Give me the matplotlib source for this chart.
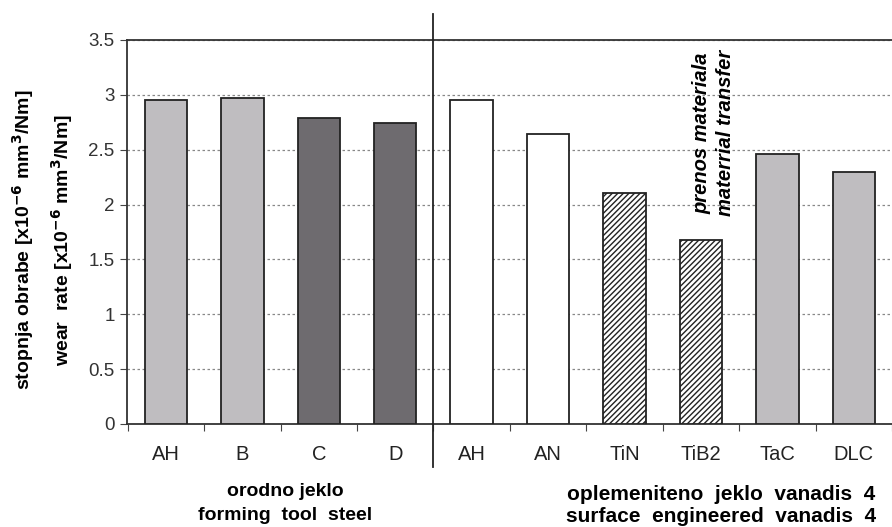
import matplotlib
matplotlib.use("Agg")
import matplotlib.pyplot as plt

plt.rcParams['font.family'] = ['Liberation Sans', 'DejaVu Sans']
plt.rcParams['hatch.linewidth'] = 1.0

categories = ["AH", "B", "C", "D", "AH", "AN", "TiN", "TiB2", "TaC", "DLC"]
values = [2.95, 2.97, 2.79, 2.74, 2.95, 2.64, 2.11, 1.68, 2.46, 2.30]
colors = ["#bfbdc0", "#bfbdc0", "#6e6b6f", "#6e6b6f", "#ffffff", "#ffffff",
          "#ffffff", "#ffffff", "#bfbdc0", "#bfbdc0"]
hatches = ["", "", "", "", "", "", "//////", "//////", "", ""]
yticks = [0, 0.5, 1, 1.5, 2, 2.5, 3, 3.5]
ytick_labels = ["0", "0.5", "1", "1.5", "2", "2.5", "3", "3.5"]

W, H = 892, 527
fig = plt.figure(figsize=(W / 100, H / 100), dpi=100)
ax = fig.add_axes([127 / W, 1 - 424 / H, (892 - 127) / W, (424 - 40) / H])

x = list(range(len(categories)))
ax.bar(x, values, width=0.555, color=colors, edgecolor="#222222", linewidth=1.3,
       hatch=hatches, zorder=3)

ax.set_xlim(-0.51, 9.34)
ax.set_ylim(0, 3.5)
ax.set_yticks(yticks)
ax.set_yticklabels(ytick_labels, fontsize=13.5, color="#333333")
ax.yaxis.grid(True, linestyle=(0, (2, 2)), color="#888888", linewidth=0.9, zorder=0)
ax.set_axisbelow(True)

ax.set_xticks([i + 0.5 for i in range(-1, 10)])
ax.set_xticklabels([])
ax.set_xticks(x, minor=True)
ax.set_xticklabels(categories, minor=True, fontsize=14.5, color="#222222")
ax.tick_params(axis="x", which="major", direction="out", length=5, color="#444444")
ax.tick_params(axis="x", which="minor", length=0, pad=15)
ax.tick_params(axis="y", direction="out", length=5, color="#444444", pad=4)

for s in ["left", "bottom", "top"]:
    ax.spines[s].set_color("#333333")
    ax.spines[s].set_linewidth(1.3)
ax.spines["right"].set_visible(False)

# group separator
ax.plot([3.5, 3.5], [-0.39, 3.74], color="#222222", linewidth=1.3,
        clip_on=False, zorder=4)

# y-axis labels (two lines)
fig.text(23 / W, 1 - 240 / H, r"stopnja obrabe [x10$^{\mathbf{-6}}$ mm$^{\mathbf{3}}$/Nm]",
         rotation=90, ha="center", va="center", fontsize=14, fontweight="bold")
fig.text(62 / W, 1 - 240 / H, r"wear  rate [x10$^{\mathbf{-6}}$ mm$^{\mathbf{3}}$/Nm]",
         rotation=90, ha="center", va="center", fontsize=14, fontweight="bold")

# annotation
ax.text(7.17, 3.41, "prenos materiala\nmaterrial transfer", rotation=90,
        ha="center", va="top", fontsize=14.5, fontweight="bold", style="italic",
        linespacing=1.3, multialignment="center")

# group labels
fig.text(285 / W, 1 - 492 / H, "orodno jeklo", ha="center", va="center",
         fontsize=14, fontweight="bold")
fig.text(285 / W, 1 - 516 / H, "forming  tool  steel", ha="center", va="center",
         fontsize=14, fontweight="bold")
fig.text(721 / W, 1 - 494 / H, "oplemeniteno  jeklo  vanadis  4", ha="center", va="center",
         fontsize=15, fontweight="bold")
fig.text(721 / W, 1 - 517 / H, "surface  engineered  vanadis  4", ha="center", va="center",
         fontsize=15, fontweight="bold")

fig.savefig("out.png", dpi=100)
